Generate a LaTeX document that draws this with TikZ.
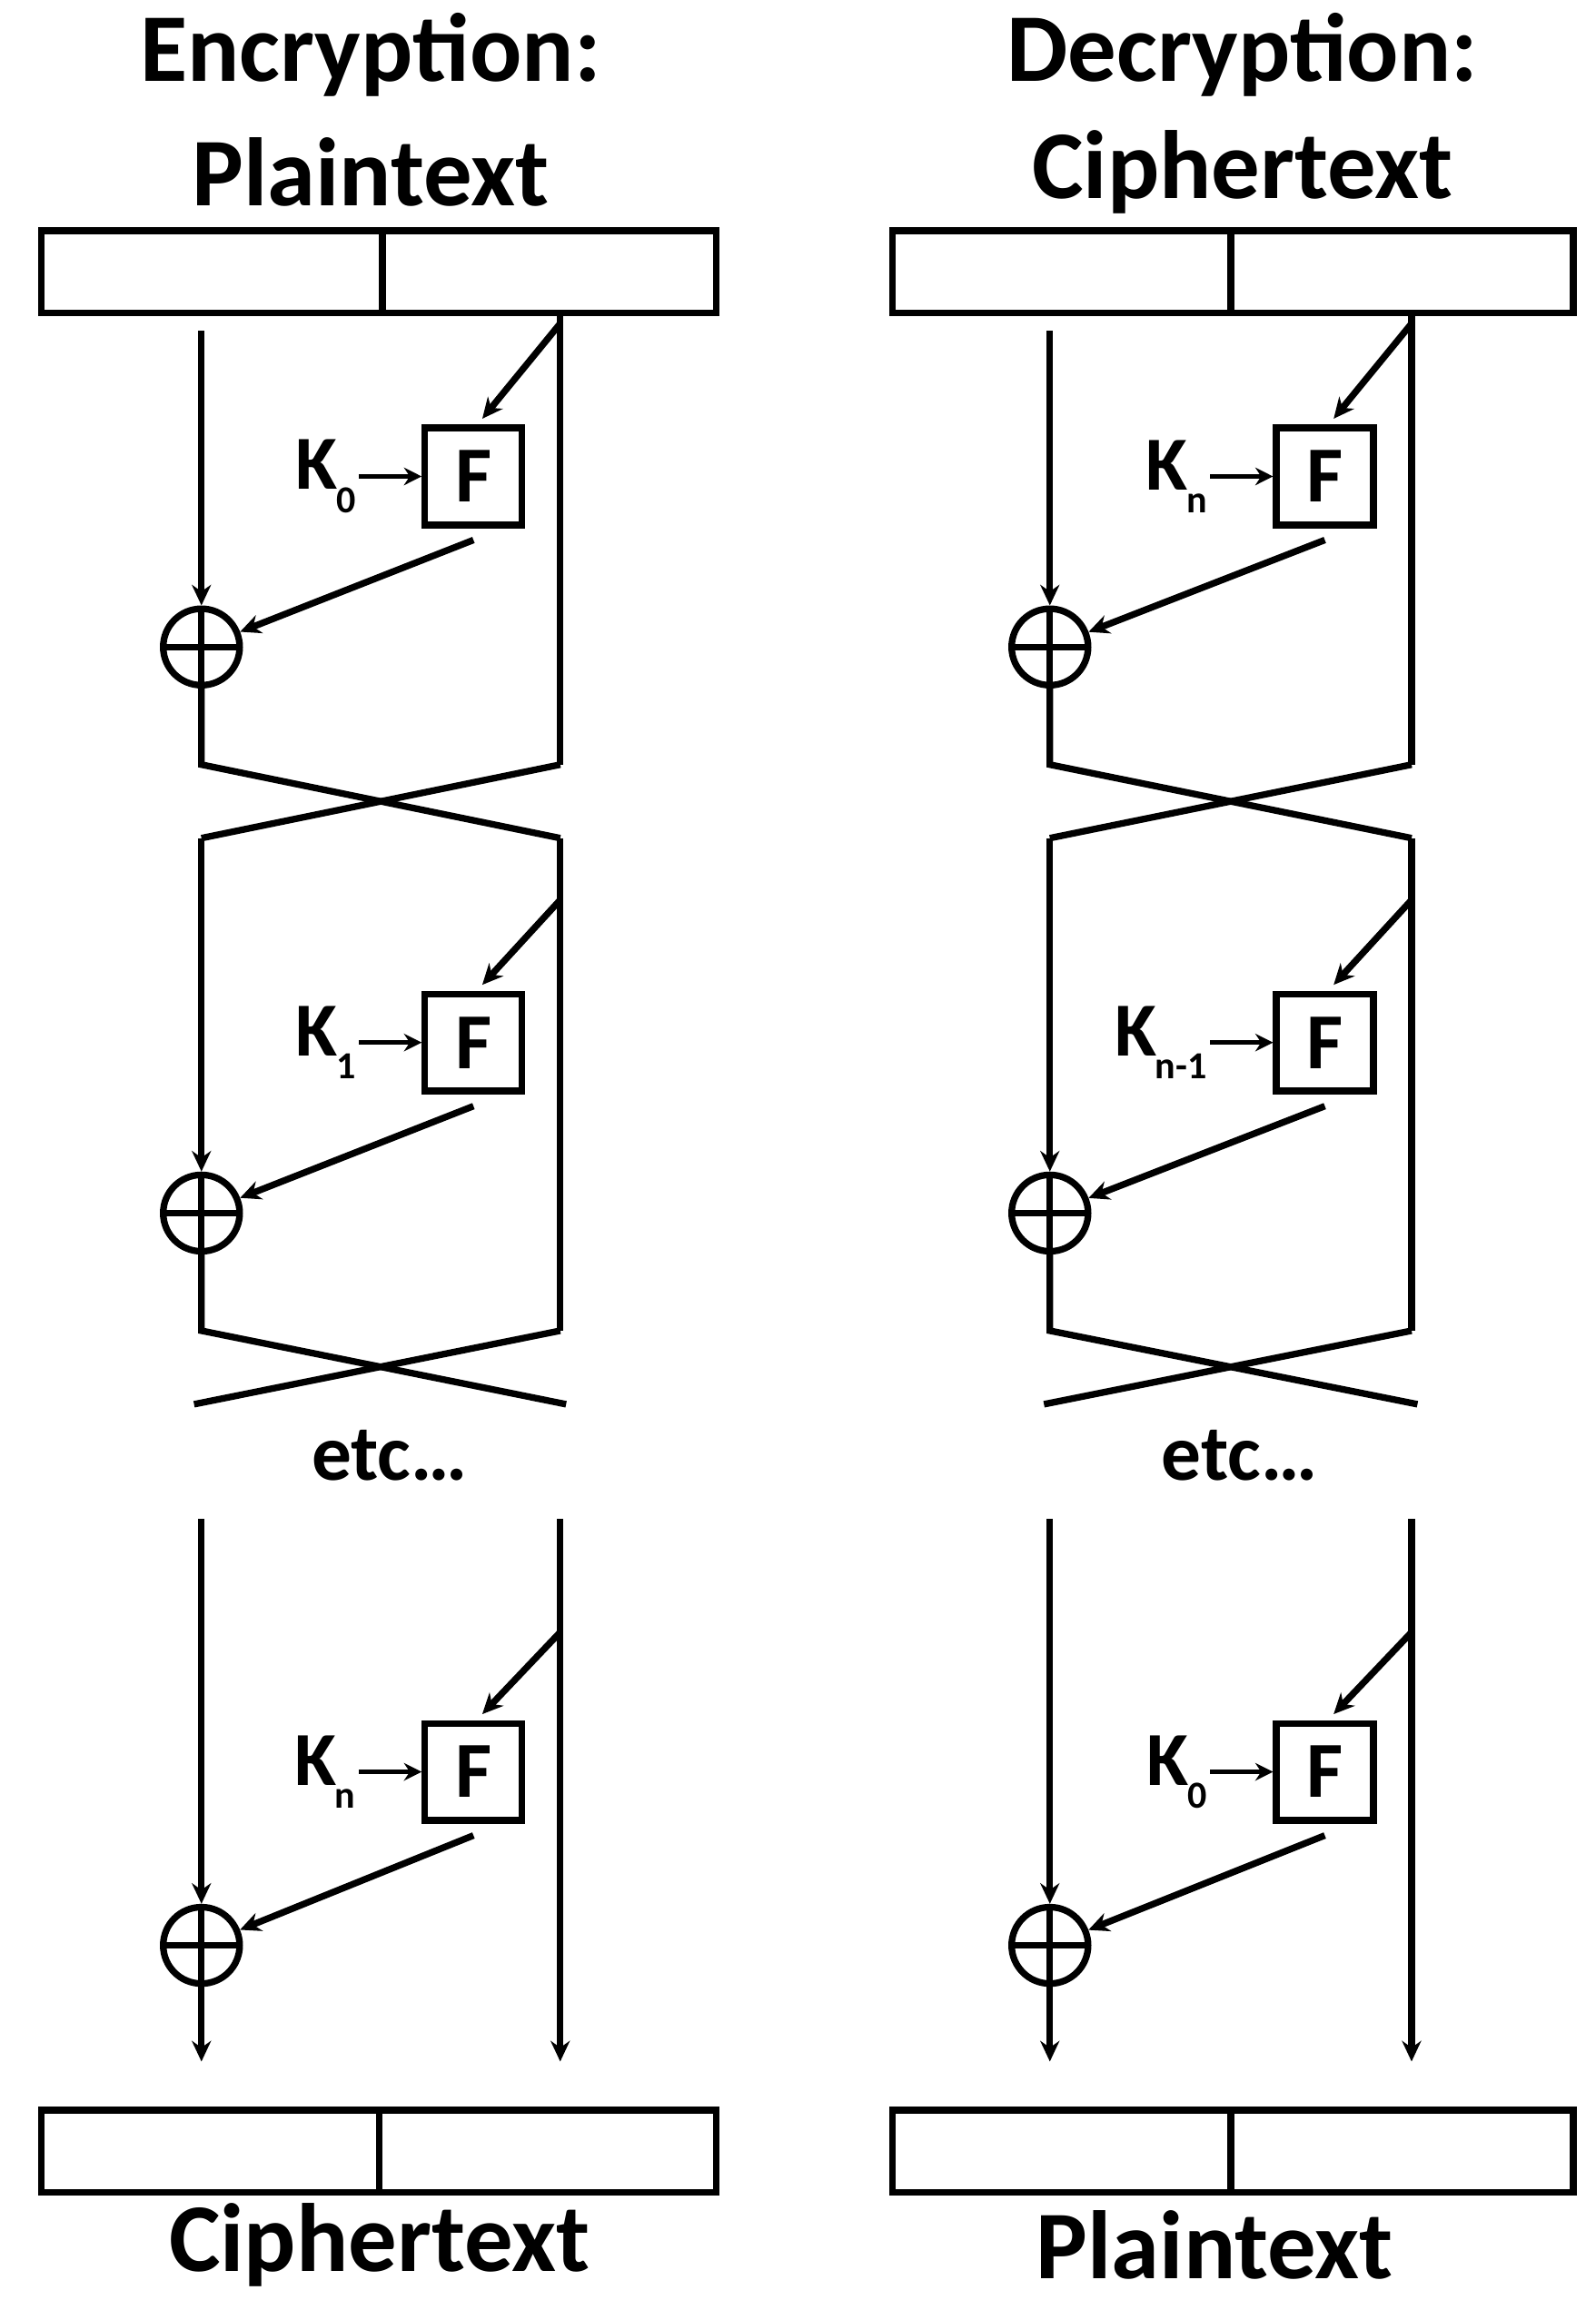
\documentclass[tikz,border=0pt]{standalone}
\usepackage{fontspec}
\setmainfont{Carlito}
\usetikzlibrary{arrows.meta}
\tikzset{
 ln/.style={line width=4.5pt},
 ar/.style={line width=4.5pt,-{Stealth[length=14pt,width=13pt]}},
 tar/.style={line width=3pt,-{Stealth[length=12pt,width=12pt]}},
 fbox/.style={draw,line width=4.5pt,minimum width=66pt,minimum height=66pt,inner sep=0pt,font=\bfseries\fontsize{54}{56}\selectfont},
 xorn/.style={draw,circle,line width=4.5pt,minimum size=52pt,inner sep=0pt,
   path picture={\draw[line width=4.5pt] (path picture bounding box.north)--(path picture bounding box.south)
     (path picture bounding box.west)--(path picture bounding box.east);}},
 keyn/.style={font=\bfseries\fontsize{52}{54}\selectfont,anchor=east,inner sep=2pt},
 ttl/.style={font=\bfseries\fontsize{66}{68}\selectfont},
 etcn/.style={font=\bfseries\fontsize{54}{56}\selectfont},
 blk/.style={draw,line width=4.5pt,minimum height=56pt,inner sep=0pt}
}
% prefix, xL, xR, ytop, ydiag, yF, yxor, key
\newcommand{\fround}[8]{%
 \coordinate (#1lt) at (#2,#4);
 \coordinate (#1rd) at (#3,#5);
 \node[fbox] (#1F) at (#3-59,#6) {F};
 \node[xorn] (#1X) at (#2,#7) {};
 \node[keyn] (#1K) at (#3-137,#6) {#8};
 \draw[ar] (#1lt) -- (#1X.north);
 \draw[ar] (#1rd) -- ([xshift=6pt,yshift=4pt]#1F.north);
 \draw[ar] ([yshift=-8pt]#1F.south) -- (#1X);
 \draw[tar] (#1K.east) -- (#1F.west);
}
\newcommand{\ks}[1]{K\kern-1pt\raisebox{-0.3em}{\fontsize{26}{28}\selectfont #1}}
\begin{document}
\begin{tikzpicture}[x=1pt,y=-1pt]
\useasboundingbox (0,0) rectangle (1085,1571);
% ---- Encryption column
\node[ttl] (t1) at (252,37) {Encryption:};
\node[ttl] (t2) at (252,117) {Plaintext};
\node[blk,minimum width=232pt] (pa) at (144,185) {};
\node[blk,minimum width=227pt] (pb) at (373.5,185) {};
\fround{a}{137}{381}{225}{220}{324}{440}{\ks{0}}
\draw[ln] (381,213) -- (381,520);
\draw[ln] (aX.south) -- (137,520) -- (381,570);
\draw[ln] (381,520) -- (137,570);
\fround{b}{137}{381}{570}{612}{709}{825}{\ks{1}}
\draw[ln] (381,570) -- (381,905);
\draw[ln] (bX.south) -- (137,905) -- (385,955);
\draw[ln] (381,905) -- (132,955);
\node[etcn] (e1) at (265,990) {etc\dots};
\fround{c}{137}{381}{1033}{1110}{1205}{1323}{\ks{n}}
\coordinate (cl) at (137,1402);
\coordinate (cr) at (381,1402);
\draw[ar] (cX.south) -- (cl);
\draw[ar] (381,1033) -- (cr);
\node[blk,minimum width=230pt] (ca) at (143,1463) {};
\node[blk,minimum width=229pt] (cb) at (372.5,1463) {};
\node[ttl] (t3) at (258,1527) {Ciphertext};
% ---- Decryption column
\node[ttl] (t4) at (845,37) {Decryption:};
\node[ttl] (t5) at (845,117) {Ciphertext};
\node[blk,minimum width=230pt] (da) at (722,185) {};
\node[blk,minimum width=233pt] (db) at (953.5,185) {};
\fround{d}{714}{960}{225}{220}{324}{440}{\ks{n}}
\draw[ln] (960,213) -- (960,520);
\draw[ln] (dX.south) -- (714,520) -- (960,570);
\draw[ln] (960,520) -- (714,570);
\fround{e}{714}{960}{570}{612}{709}{825}{\ks{n-1}}
\draw[ln] (960,570) -- (960,905);
\draw[ln] (eX.south) -- (714,905) -- (964,955);
\draw[ln] (960,905) -- (710,955);
\node[etcn] (e2) at (843,990) {etc\dots};
\fround{f}{714}{960}{1033}{1110}{1205}{1323}{\ks{0}}
\coordinate (fl) at (714,1402);
\coordinate (fr) at (960,1402);
\draw[ar] (fX.south) -- (fl);
\draw[ar] (960,1033) -- (fr);
\node[blk,minimum width=230pt] (fa) at (722,1463) {};
\node[blk,minimum width=233pt] (fb) at (953.5,1463) {};
\node[ttl] (t6) at (826,1527) {Plaintext};
\end{tikzpicture}
\end{document}
